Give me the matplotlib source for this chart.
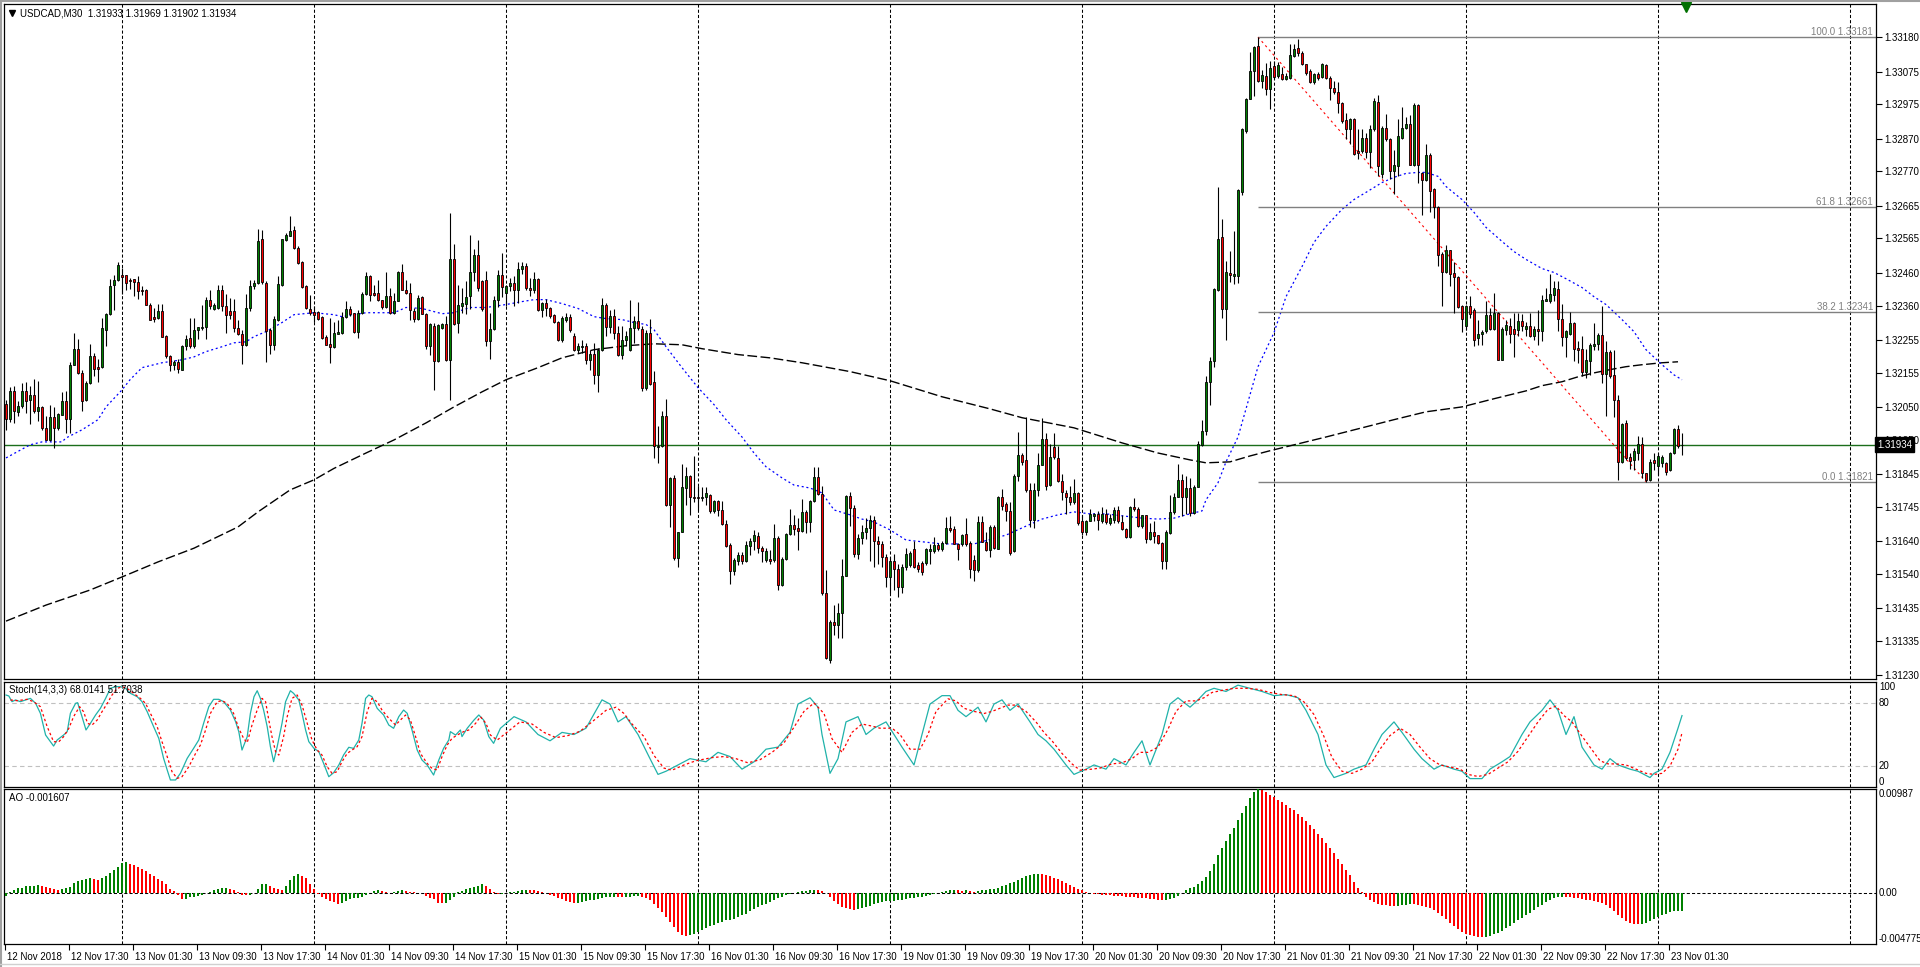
import matplotlib
matplotlib.use("Agg")
import matplotlib.pyplot as plt
import numpy as np
from matplotlib.transforms import ScaledTranslation
from matplotlib.lines import Line2D

plt.rcParams['font.family'] = ['Liberation Sans', 'DejaVu Sans']

# USDCAD M30 candles, prices stored as points above 1.30000 (1934 -> 1.31934)
bar_open = [
    2060, 2014, 2100, 2033, 2052, 2100, 2070, 2087, 2036, 2050,
    1985, 1948, 2019, 1984, 2026, 2068, 2013, 2178, 2227, 2153,
    2070, 2123, 2207, 2172, 2172, 2285, 2334, 2422, 2437, 2453,
    2453, 2439, 2441, 2433, 2409, 2409, 2362, 2326, 2323, 2343,
    2268, 2207, 2177, 2186, 2164, 2235, 2262, 2235, 2285, 2290,
    2293, 2376, 2350, 2352, 2409, 2360, 2344, 2343, 2291, 2274,
    2238, 2352, 2419, 2429, 2562, 2429, 2286, 2240, 2315, 2423,
    2560, 2574, 2591, 2535, 2494, 2420, 2349, 2340, 2339, 2325,
    2263, 2243, 2234, 2274, 2276, 2325, 2349, 2336, 2279, 2336,
    2395, 2450, 2397, 2397, 2378, 2356, 2388, 2337, 2375, 2462,
    2409, 2398, 2343, 2319, 2386, 2335, 2237, 2297, 2189, 2291,
    2302, 2193, 2501, 2307, 2360, 2366, 2388, 2463, 2513, 2436,
    2439, 2251, 2288, 2376, 2452, 2397, 2421, 2429, 2407, 2472,
    2480, 2414, 2409, 2441, 2346, 2368, 2353, 2332, 2310, 2254,
    2317, 2325, 2268, 2225, 2233, 2237, 2193, 2211, 2149, 2225,
    2363, 2295, 2329, 2276, 2210, 2256, 2225, 2291, 2312, 2288,
    2108, 2276, 2126, 1927, 1929, 2021, 1751, 1833, 1588, 1667,
    1802, 1840, 1776, 1776, 1770, 1776, 1781, 1731, 1761, 1734,
    1692, 1628, 1547, 1578, 1598, 1578, 1626, 1639, 1656, 1618,
    1581, 1585, 1581, 1649, 1506, 1585, 1662, 1690, 1680, 1672,
    1730, 1697, 1761, 1836, 1785, 1481, 1277, 1391, 1384, 1419,
    1534, 1777, 1741, 1600, 1650, 1668, 1680, 1705, 1640, 1630,
    1590, 1530, 1580, 1555, 1500, 1560, 1566, 1614, 1566, 1573,
    1573, 1609, 1609, 1628, 1614, 1633, 1681, 1676, 1630, 1630,
    1662, 1635, 1582, 1550, 1697, 1638, 1612, 1684, 1616, 1775,
    1754, 1732, 1608, 1840, 1902, 1888, 1797, 1705, 1797, 1872,
    1953, 1810, 1926, 1893, 1824, 1788, 1773, 1759, 1788, 1700,
    1668, 1700, 1716, 1722, 1702, 1724, 1695, 1705, 1735, 1697,
    1676, 1652, 1743, 1738, 1687, 1718, 1646, 1668, 1657, 1633,
    1580, 1665, 1730, 1775, 1827, 1775, 1802, 1727, 1805, 1935,
    1977, 2125, 2189, 2407, 2571, 2350, 2460, 2450, 2450, 2708,
    2893, 2992, 3078, 3153, 3046, 3063, 3023, 3093, 3062, 3067,
    3054, 3057, 3123, 3146, 3133, 3098, 3077, 3044, 3067, 3060,
    3095, 3057, 3026, 3013, 2978, 2927, 2899, 2929, 2832, 2832,
    2873, 2829, 2899, 2982, 2761, 2904, 2868, 2771, 2786, 2873,
    2904, 2914, 2791, 2972, 2764, 2744, 2819, 2715, 2662, 2519,
    2462, 2529, 2458, 2447, 2360, 2298, 2358, 2347, 2261, 2274,
    2281, 2332, 2288, 2337, 2194, 2286, 2298, 2288, 2286, 2312,
    2288, 2298, 2266, 2288, 2281, 2373, 2373, 2393, 2411, 2319,
    2264, 2274, 2307, 2230, 2227, 2158, 2189, 2235, 2243, 2271,
    2151, 2218, 2148, 2072, 1883, 2000, 1898, 1888, 1908, 1936,
    1847, 1827, 1888, 1868, 1878, 1880, 1857, 1908, 1982, 1933,
]
bar_high = [
    2072, 2110, 2113, 2067, 2123, 2125, 2113, 2136, 2128, 2052,
    2021, 2055, 2050, 2031, 2096, 2099, 2188, 2276, 2259, 2164,
    2128, 2242, 2215, 2196, 2321, 2337, 2441, 2452, 2493, 2475,
    2454, 2444, 2442, 2449, 2421, 2411, 2368, 2352, 2366, 2366,
    2271, 2210, 2194, 2196, 2240, 2271, 2322, 2322, 2294, 2363,
    2386, 2409, 2368, 2424, 2422, 2396, 2382, 2381, 2317, 2284,
    2395, 2439, 2437, 2594, 2592, 2434, 2291, 2329, 2449, 2564,
    2582, 2635, 2604, 2541, 2496, 2422, 2393, 2358, 2342, 2327,
    2271, 2322, 2309, 2317, 2339, 2373, 2360, 2337, 2347, 2401,
    2462, 2452, 2424, 2439, 2378, 2463, 2414, 2398, 2465, 2488,
    2439, 2429, 2352, 2393, 2388, 2337, 2307, 2307, 2305, 2308,
    2327, 2642, 2547, 2424, 2414, 2434, 2577, 2533, 2560, 2439,
    2465, 2337, 2388, 2468, 2521, 2424, 2444, 2450, 2492, 2492,
    2490, 2444, 2462, 2443, 2370, 2380, 2356, 2335, 2312, 2327,
    2337, 2335, 2276, 2245, 2256, 2245, 2225, 2245, 2230, 2384,
    2368, 2346, 2350, 2297, 2297, 2281, 2378, 2327, 2370, 2298,
    2286, 2319, 2159, 1991, 2036, 2074, 1836, 1843, 1669, 1876,
    1866, 1843, 1901, 1807, 1805, 1805, 1785, 1765, 1764, 1761,
    1705, 1634, 1588, 1605, 1605, 1639, 1649, 1674, 1669, 1625,
    1618, 1613, 1693, 1654, 1591, 1664, 1739, 1720, 1710, 1768,
    1736, 1766, 1866, 1866, 1807, 1552, 1399, 1445, 1450, 1585,
    1781, 1790, 1750, 1660, 1690, 1710, 1720, 1715, 1655, 1640,
    1600, 1590, 1600, 1570, 1570, 1620, 1608, 1641, 1575, 1580,
    1620, 1630, 1652, 1635, 1640, 1713, 1716, 1687, 1635, 1662,
    1711, 1641, 1598, 1716, 1716, 1668, 1689, 1689, 1777, 1799,
    1759, 1759, 1845, 1974, 1910, 2019, 1818, 1818, 1910, 2017,
    1969, 1937, 1969, 1931, 1845, 1797, 1807, 1829, 1791, 1721,
    1705, 1738, 1727, 1732, 1743, 1738, 1722, 1743, 1748, 1721,
    1681, 1748, 1772, 1743, 1721, 1721, 1695, 1700, 1659, 1638,
    1673, 1780, 1786, 1874, 1845, 1840, 1834, 1810, 1947, 2010,
    2146, 2203, 2415, 2721, 2625, 2496, 2528, 2587, 2716, 2904,
    2995, 3135, 3153, 3181, 3081, 3103, 3108, 3108, 3105, 3088,
    3070, 3159, 3159, 3174, 3138, 3100, 3082, 3072, 3075, 3103,
    3100, 3062, 3046, 3044, 2983, 2948, 2934, 2934, 2899, 2899,
    2888, 2911, 2996, 3003, 2909, 2945, 2873, 2837, 2931, 2968,
    2937, 2942, 2978, 2975, 2768, 2853, 2827, 2720, 2664, 2523,
    2546, 2531, 2492, 2449, 2363, 2363, 2388, 2351, 2315, 2286,
    2373, 2351, 2398, 2339, 2293, 2317, 2322, 2337, 2337, 2335,
    2309, 2337, 2296, 2347, 2393, 2414, 2455, 2434, 2434, 2366,
    2286, 2339, 2309, 2250, 2266, 2227, 2245, 2307, 2276, 2360,
    2250, 2223, 2223, 2087, 2002, 2010, 1908, 1924, 1961, 1959,
    1849, 1890, 1908, 1910, 1903, 1883, 1913, 1985, 1995, 1969,
]
bar_low = [
    1980, 2003, 2001, 2021, 2046, 2031, 1999, 2031, 2006, 1980,
    1948, 1945, 1924, 1980, 2024, 1970, 1970, 2177, 2151, 2039,
    2068, 2121, 2143, 2125, 2170, 2235, 2332, 2345, 2435, 2395,
    2407, 2411, 2388, 2380, 2393, 2361, 2315, 2310, 2319, 2263,
    2201, 2159, 2162, 2154, 2162, 2225, 2230, 2231, 2258, 2286,
    2258, 2350, 2345, 2349, 2344, 2276, 2320, 2278, 2271, 2180,
    2235, 2344, 2411, 2427, 2426, 2186, 2213, 2225, 2312, 2419,
    2557, 2572, 2533, 2488, 2414, 2349, 2332, 2309, 2315, 2258,
    2238, 2184, 2230, 2272, 2274, 2323, 2327, 2276, 2261, 2334,
    2391, 2374, 2388, 2375, 2350, 2352, 2335, 2335, 2373, 2407,
    2396, 2317, 2310, 2317, 2333, 2227, 2210, 2101, 2186, 2289,
    2190, 2072, 2299, 2276, 2337, 2335, 2348, 2434, 2404, 2343,
    2235, 2195, 2286, 2356, 2386, 2358, 2404, 2358, 2368, 2455,
    2409, 2390, 2397, 2343, 2324, 2327, 2322, 2307, 2250, 2248,
    2310, 2279, 2220, 2215, 2215, 2182, 2164, 2121, 2095, 2220,
    2266, 2276, 2258, 2205, 2195, 2237, 2220, 2244, 2286, 2098,
    2103, 2118, 1894, 1880, 1927, 1748, 1683, 1583, 1560, 1666,
    1751, 1720, 1758, 1734, 1761, 1751, 1725, 1725, 1715, 1690,
    1623, 1508, 1537, 1567, 1570, 1575, 1598, 1613, 1603, 1577,
    1576, 1570, 1575, 1491, 1501, 1583, 1659, 1659, 1613, 1666,
    1664, 1669, 1758, 1782, 1476, 1279, 1268, 1353, 1343, 1343,
    1532, 1687, 1590, 1585, 1630, 1645, 1580, 1560, 1570, 1560,
    1500, 1480, 1490, 1470, 1480, 1550, 1560, 1558, 1545, 1535,
    1568, 1571, 1603, 1608, 1608, 1630, 1668, 1630, 1582, 1625,
    1625, 1528, 1519, 1545, 1636, 1609, 1592, 1616, 1614, 1734,
    1702, 1598, 1605, 1824, 1873, 1791, 1684, 1681, 1777, 1872,
    1797, 1808, 1892, 1820, 1764, 1722, 1749, 1753, 1689, 1657,
    1657, 1700, 1700, 1673, 1694, 1692, 1689, 1695, 1695, 1673,
    1649, 1649, 1732, 1684, 1681, 1635, 1644, 1635, 1630, 1555,
    1555, 1662, 1722, 1775, 1716, 1722, 1716, 1724, 1805, 1931,
    1963, 2055, 2173, 2404, 2321, 2254, 2431, 2426, 2429, 2698,
    2888, 2990, 3001, 3044, 3024, 3003, 2962, 3052, 3055, 3050,
    3050, 3054, 3121, 3123, 3095, 3065, 3040, 3038, 3050, 3055,
    3052, 2989, 3008, 2950, 2918, 2868, 2853, 2819, 2807, 2825,
    2812, 2781, 2894, 2756, 2751, 2863, 2748, 2700, 2756, 2868,
    2899, 2791, 2786, 2735, 2638, 2740, 2645, 2628, 2480, 2360,
    2460, 2419, 2337, 2352, 2278, 2286, 2322, 2237, 2240, 2240,
    2276, 2286, 2286, 2192, 2192, 2271, 2245, 2204, 2266, 2281,
    2266, 2264, 2255, 2240, 2250, 2373, 2368, 2373, 2281, 2235,
    2204, 2271, 2189, 2184, 2143, 2138, 2148, 2225, 2225, 2123,
    2021, 2138, 2019, 1825, 1878, 1888, 1859, 1857, 1888, 1832,
    1821, 1822, 1857, 1842, 1867, 1842, 1855, 1906, 1924, 1902,
]
bar_close = [
    2013, 2100, 2036, 2054, 2100, 2067, 2087, 2036, 2050, 1984,
    1950, 2019, 1984, 2028, 2068, 2013, 2178, 2227, 2153, 2068,
    2124, 2207, 2166, 2166, 2291, 2334, 2420, 2438, 2484, 2447,
    2429, 2435, 2431, 2403, 2405, 2362, 2317, 2319, 2343, 2264,
    2205, 2177, 2186, 2167, 2237, 2258, 2235, 2285, 2293, 2295,
    2376, 2360, 2362, 2409, 2358, 2332, 2332, 2292, 2272, 2238,
    2352, 2421, 2430, 2558, 2431, 2281, 2240, 2320, 2426, 2562,
    2577, 2588, 2535, 2490, 2417, 2351, 2337, 2332, 2319, 2261,
    2240, 2234, 2276, 2280, 2325, 2349, 2335, 2279, 2336, 2395,
    2450, 2393, 2391, 2376, 2356, 2388, 2337, 2375, 2462, 2409,
    2398, 2345, 2319, 2382, 2335, 2235, 2302, 2189, 2299, 2302,
    2193, 2501, 2302, 2363, 2368, 2386, 2463, 2513, 2414, 2348,
    2251, 2289, 2378, 2452, 2417, 2419, 2429, 2407, 2472, 2480,
    2414, 2407, 2441, 2346, 2368, 2353, 2329, 2310, 2254, 2322,
    2325, 2286, 2225, 2237, 2237, 2193, 2211, 2147, 2225, 2363,
    2295, 2327, 2276, 2210, 2256, 2266, 2291, 2312, 2291, 2108,
    2276, 2121, 1929, 1929, 2021, 1751, 1833, 1588, 1667, 1805,
    1840, 1776, 1770, 1771, 1776, 1787, 1731, 1761, 1734, 1692,
    1626, 1547, 1581, 1598, 1578, 1629, 1641, 1659, 1618, 1608,
    1610, 1578, 1649, 1506, 1585, 1662, 1690, 1676, 1672, 1730,
    1697, 1761, 1836, 1785, 1481, 1282, 1391, 1384, 1419, 1534,
    1778, 1741, 1600, 1650, 1668, 1680, 1705, 1640, 1630, 1590,
    1530, 1580, 1555, 1500, 1560, 1600, 1603, 1560, 1555, 1544,
    1614, 1614, 1628, 1614, 1633, 1681, 1673, 1630, 1614, 1657,
    1630, 1555, 1550, 1697, 1638, 1612, 1684, 1619, 1775, 1748,
    1732, 1603, 1838, 1902, 1881, 1797, 1705, 1797, 1872, 1953,
    1808, 1896, 1896, 1824, 1791, 1773, 1759, 1788, 1695, 1668,
    1700, 1724, 1724, 1705, 1724, 1697, 1709, 1735, 1700, 1676,
    1652, 1745, 1738, 1687, 1718, 1646, 1668, 1655, 1633, 1580,
    1668, 1730, 1775, 1827, 1775, 1802, 1727, 1805, 1937, 1977,
    2125, 2189, 2410, 2562, 2350, 2463, 2452, 2455, 2714, 2899,
    2992, 3078, 3151, 3046, 3065, 3022, 3085, 3060, 3095, 3052,
    3062, 3125, 3144, 3131, 3098, 3072, 3044, 3067, 3057, 3098,
    3057, 3026, 3013, 2978, 2924, 2899, 2929, 2822, 2825, 2873,
    2829, 2899, 2985, 2786, 2904, 2868, 2771, 2791, 2878, 2904,
    2916, 2791, 2972, 2791, 2744, 2819, 2710, 2662, 2516, 2462,
    2529, 2455, 2447, 2356, 2319, 2358, 2335, 2255, 2274, 2278,
    2332, 2288, 2337, 2194, 2289, 2301, 2273, 2273, 2312, 2296,
    2298, 2266, 2288, 2281, 2378, 2380, 2396, 2414, 2319, 2264,
    2281, 2307, 2227, 2223, 2158, 2192, 2240, 2243, 2271, 2151,
    2218, 2143, 2070, 1883, 1998, 1893, 1886, 1916, 1937, 1847,
    1827, 1883, 1880, 1900, 1896, 1852, 1908, 1982, 1929, 1934,
]

# moving averages (bar index, points above 1.30000)
ma_fast_bar = [0, 6, 9, 14, 15, 19, 23, 25, 29, 31, 34, 39, 44, 47, 50, 54, 57, 60, 62, 65,
               69, 72, 77, 82, 84, 90, 97, 100, 104, 109, 112, 116, 120, 125, 129, 132, 135, 139,
               143, 147, 150, 154, 157, 160, 162, 165, 169, 173, 177, 180, 184, 187, 190, 194,
               197, 201, 204, 207, 211, 214, 217, 221, 225, 234, 242, 250, 254, 259, 263, 267,
               271, 275, 279, 284, 288, 292, 296, 299, 300, 303, 305, 308, 310, 313, 317, 320,
               324, 327, 330, 334, 337, 340, 344, 347, 350, 353, 355, 358, 360, 364, 367, 370,
               374, 377, 380, 384, 387, 390, 394, 397, 400, 404, 407, 410, 414, 417, 419]
ma_fast_val = [1894, 1934, 1943, 1943, 1955, 1980, 2011, 2050, 2102, 2133, 2170, 2185, 2194, 2203,
               2219, 2234, 2246, 2249, 2265, 2280, 2308, 2332, 2338, 2332, 2326, 2338, 2338, 2354,
               2351, 2335, 2338, 2354, 2354, 2363, 2372, 2378, 2378, 2366, 2351, 2326, 2320, 2317,
               2308, 2302, 2286, 2234, 2170, 2109, 2057, 2011, 1958, 1909, 1867, 1833, 1811, 1802,
               1787, 1735, 1720, 1707, 1698, 1674, 1643, 1631, 1631, 1658, 1680, 1707, 1720, 1729,
               1723, 1723, 1717, 1710, 1707, 1710, 1723, 1732, 1766, 1818, 1882, 1958, 2044, 2173,
               2277, 2387, 2479, 2553, 2602, 2654, 2684, 2706, 2736, 2752, 2764, 2767, 2767, 2755,
               2724, 2684, 2645, 2599, 2556, 2525, 2501, 2473, 2461, 2442, 2415, 2387, 2363, 2317,
               2280, 2225, 2179, 2148, 2133]
ma_slow_bar = [0, 10, 21, 29, 38, 47, 58, 63, 71, 77, 82, 90, 97, 105, 112, 119, 125, 133, 139,
               147, 155, 162, 169, 174, 183, 191, 199, 211, 221, 234, 246, 254, 267, 279, 288,
               296, 300, 306, 311, 316, 322, 330, 339, 347, 355, 364, 372, 380, 384, 389, 393,
               397, 401, 405, 409, 414, 418]
ma_slow_val = [1395, 1444, 1490, 1530, 1576, 1618, 1683, 1729, 1796, 1827, 1862, 1909, 1949, 2001,
               2050, 2096, 2133, 2170, 2200, 2225, 2237, 2243, 2240, 2228, 2210, 2200, 2185, 2158,
               2130, 2081, 2044, 2017, 1986, 1940, 1909, 1888, 1879, 1882, 1900, 1916, 1934, 1958,
               1986, 2011, 2035, 2050, 2075, 2099, 2115, 2127, 2142, 2154, 2164, 2173, 2179, 2185,
               2188]

# Stochastic (14,3,3): main line and signal line
stoch_k_bar = [0, 0.7, 1.5, 2.4, 3.6, 4.9, 6.1, 7.4, 8.6, 9.9, 11.1, 11.9, 12.8, 14.4, 15.3, 16.1,
               17.4, 17.9, 19.0, 20.0, 21.1, 22.4, 23.6, 24.9, 26.1, 27.4, 28.6, 29.9, 31.1, 32.8,
               34.0, 35.3, 36.9, 38.2, 39.4, 40.3, 41.1, 42.4, 43.6, 45.3, 46.9, 48.2, 49.4, 50.7,
               51.9, 53.2, 54.4, 56.1, 57.4, 58.2, 59.0, 60.3, 61.1, 62.0, 62.8, 63.6, 64.4, 65.3,
               66.1, 66.9, 67.8, 69.0, 69.9, 71.1, 71.9, 73.2, 74.0, 74.9, 75.7, 77.0, 78.2, 79.4,
               80.7, 81.9, 83.2, 84.4, 85.7, 86.9, 88.2, 89.0, 89.9, 90.7, 91.5, 92.8, 94.4, 95.7,
               96.9, 98.2, 99.4, 100.3, 101.5, 102.8, 104.0, 105.3, 106.9, 108.2, 109.4, 110.7,
               111.1, 112.4, 113.6, 114.0, 115.3, 117.0, 118.2, 119.4, 120.7, 121.9, 123.6,
               127, 130, 133, 136, 139, 142, 145, 149, 151, 153,
               155, 158, 161, 163, 165, 168, 171, 175, 178, 181,
               184, 187, 190, 193, 196, 198, 201, 203, 204, 206,
               208, 210, 213, 215, 217, 220, 222, 224, 227, 229,
               231, 234, 236, 238, 240, 243, 245, 247, 249, 251,
               253, 256, 258, 260, 262, 265, 267, 270, 272, 275,
               277, 280, 282, 284, 286, 289, 291, 293, 296, 298,
               300, 302, 305, 308, 311, 314, 317, 320, 323, 325,
               328, 330, 332, 335, 337, 340, 342, 344, 347, 349,
               352, 354, 357, 359, 362, 364, 366, 369, 371, 374,
               376, 379, 381, 384, 386, 388, 390, 392, 394, 397,
               399, 401, 403, 406, 408, 411, 412, 414, 416, 418, 419]
stoch_k_val = [87.6, 86.7, 81.3, 82.9, 81.3, 82.9, 84.4, 79.7, 70.2, 49.5, 43.2, 39.0, 44.8, 49.5,
               52.7, 70.2, 79.7, 80.3, 67.0, 54.3, 60.6, 68.6, 74.9, 84.4, 94.0, 95.6, 95.6, 94.0,
               89.2, 86.0, 81.3, 71.7, 57.5, 46.3, 27.3, 16.2, 6.7, 6.7, 13.0, 27.3, 36.8, 44.8,
               60.6, 76.5, 83.5, 83.5, 81.3, 73.3, 62.2, 52.7, 35.2, 47.9, 70.2, 86.0, 91.7, 84.4,
               73.3, 57.5, 38.4, 24.1, 38.4, 60.6, 81.3, 91.7, 89.2, 82.9, 70.2, 54.3, 43.2, 36.8,
               33.7, 22.5, 9.8, 13.6, 20.9, 30.5, 37.8, 36.8, 44.8, 60.6, 84.4, 87.6, 86.0, 74.9,
               68.6, 59.0, 55.9, 67.0, 73.3, 70.2, 54.3, 35.2, 25.7, 20.9, 11.4, 25.7, 36.8, 44.8,
               52.7, 49.5, 54.3, 48.0, 55.9, 63.8, 68.6, 63.8, 48.0, 41.6, 55.9,
               67, 62, 50, 44, 52, 50, 56, 83, 79, 62,
               67, 50, 27, 12, 15, 21, 27, 24, 33, 29,
               17, 24, 36, 38, 52, 79, 85, 76, 50, 13,
               27, 62, 67, 50, 56, 62, 50, 38, 21, 50,
               79, 87, 87, 73, 67, 76, 62, 79, 83, 73,
               79, 62, 50, 44, 36, 21, 12, 17, 21, 17,
               27, 21, 33, 44, 21, 50, 79, 85, 76, 83,
               91, 94, 91, 97, 94, 91, 87, 88, 85, 73,
               50, 21, 9, 13, 17, 21, 36, 50, 62, 52,
               36, 27, 17, 21, 17, 15, 8, 8, 17, 24,
               29, 50, 62, 73, 83, 73, 50, 67, 38, 21,
               17, 27, 21, 17, 15, 9, 13, 17, 33, 56, 68.0141]
stoch_d_bar = [1.1, 2.8, 5.3, 6.9, 8.6, 10.3, 11.9, 13.2, 14.4, 15.7, 16.9, 18.4, 19.4, 20.4, 21.5,
               22.8, 24.0, 25.3, 26.5, 27.8, 29.0, 30.3, 31.9, 33.6, 34.9, 36.1, 37.8, 39.0, 40.3,
               41.5, 42.8, 44.0, 45.7, 47.4, 48.6, 49.9, 51.1, 52.8, 54.0, 55.3, 56.9, 58.2, 59.4,
               60.3, 61.5, 62.8, 64.0, 64.9, 65.7, 66.5, 67.4, 68.2, 69.4, 70.3, 71.5, 72.8, 74.0,
               75.3, 76.5, 77.8, 79.0, 80.3, 81.5, 82.8, 84.0, 85.3, 86.5, 87.8, 89.0, 90.3, 91.5,
               92.8, 94.0, 95.7, 97.4, 98.6, 99.9, 101.1, 102.4, 103.6, 105.3, 106.5, 107.8, 109.0,
               110.3, 111.5, 112.8, 114.4, 115.7, 117.4, 118.6, 120.0, 121.1, 122.8,
               128.5, 131.5, 134.5, 137.5, 140.5, 143.5, 146.5, 150, 152.5, 154.5,
               156.5, 159.5, 162, 164.5, 166.5, 169.5, 172.5, 176.5, 179.5, 182.5,
               185.5, 188.5, 191.5, 194.5, 197, 199.5, 202, 204.5, 206.5, 209,
               211.5, 214, 216.5, 218.5, 221.5, 223.5, 226, 228.5, 230.5, 232.5,
               235.5, 237.5, 239.5, 242, 244.5, 246.5, 248.5, 250.5, 252.5, 255,
               257.5, 259.5, 261.5, 264, 266.5, 268.5, 271.5, 273.5, 276.5, 279,
               281.5, 283.5, 285.5, 288, 290.5, 292.5, 295, 297.5, 299.5, 301.5,
               304, 307, 310, 313, 316, 319, 322, 324.5, 327, 329.5,
               331.5, 334, 336.5, 339, 341.5, 343.5, 346, 348.5, 351, 353.5,
               356, 358.5, 361, 363.5, 365.5, 368, 370.5, 373, 375.5, 378,
               380.5, 383, 385.5, 387.5, 389.5, 391.5, 393.5, 396, 398.5, 400.5,
               402.5, 405, 407.5, 410, 412, 414, 416, 418, 419]
stoch_d_val = [82.9, 82.2, 83.5, 81.2, 76.5, 57.4, 43.1, 43.1, 47.9, 55.8, 67.0, 76.5, 71.7, 60.6,
               59.0, 63.8, 71.7, 79.6, 87.6, 93.9, 95.5, 93.9, 89.2, 84.4, 79.6, 70.1, 57.4, 43.1,
               28.9, 14.6, 8.2, 9.8, 19.3, 32.0, 40.0, 54.3, 70.1, 81.2, 82.2, 79.6, 70.1, 55.8,
               46.3, 42.2, 59.0, 73.3, 84.4, 81.2, 63.8, 47.9, 33.6, 30.4, 47.9, 67.0, 84.4, 87.6,
               78.1, 60.6, 44.7, 35.2, 30.4, 19.3, 13.0, 14.6, 24.1, 32.0, 35.2, 38.4, 47.9, 71.7,
               84.4, 81.2, 73.3, 65.4, 59.0, 63.8, 68.5, 63.8, 47.9, 32.0, 22.5, 17.7, 16.2, 28.9,
               40.0, 46.3, 49.5, 52.7, 54.3, 60.6, 67.0, 60.6, 49.5, 44.7,
               62, 60, 52, 47, 49, 53, 62, 73, 76, 70,
               60, 48, 30, 18, 16, 21, 25, 28, 29, 27,
               23, 26, 33, 42, 57, 72, 80, 70, 46, 33,
               52, 60, 58, 56, 56, 50, 36, 36, 50, 72,
               84, 82, 75, 72, 70, 72, 75, 78, 78, 72,
               62, 52, 44, 32, 22, 16, 17, 18, 22, 23,
               27, 33, 33, 38, 55, 72, 82, 82, 85, 90,
               92, 94, 94, 93, 90, 88, 87, 81, 69, 48,
               28, 15, 13, 17, 24, 36, 49, 56, 50, 38,
               27, 21, 19, 17, 12, 10, 12, 18, 24, 34,
               48, 62, 74, 77, 68, 62, 51, 38, 25, 22,
               22, 21, 17, 13, 12, 13, 20, 36, 51.7038]

# Awesome Oscillator, one value per bar (x 1e-5)
ao_val = [
    -25, 16, 31, 47, 56, 66, 72, 75, 81, 69,
    59, 53, 41, 34, 38, 47, 60, 100, 119, 131,
    141, 147, 138, 125, 147, 163, 194, 219, 250, 288,
    294, 282, 269, 250, 232, 210, 188, 163, 138, 116,
    85, 44, 22, -19, -50, -50, -38, -31, -25, -13,
    6, 16, 31, 44, 50, 56, 44, 31, 16, -16,
    -19, -16, 1, 38, 85, 94, 69, 53, 38, 31,
    69, 131, 169, 188, 169, 147, 85, 38, -9, -31,
    -56, -72, -81, -103, -88, -72, -50, -44, -41, -34,
    -19, 1, 22, 31, 22, 13, 6, 13, 19, 28,
    19, 16, 13, 6, 0, -25, -41, -56, -88, -94,
    -88, -66, -31, 13, 22, 38, 47, 63, 75, 85,
    69, 38, 13, -9, -5, 5, 12, 18, 25, 30,
    32, 30, 28, 22, 12, 2, -10, -25, -40, -55,
    -70, -85, -90, -88, -80, -70, -62, -58, -55, -45,
    -38, -35, -32, -35, -38, -36, -30, -25, -22, -30,
    -45, -60, -95, -140, -175, -225, -270, -320, -365, -395,
    -405, -395, -380, -362, -345, -328, -312, -296, -280, -266,
    -255, -250, -240, -225, -208, -190, -170, -150, -130, -112,
    -95, -80, -62, -45, -30, -15, -2, 8, 15, 22,
    25, 28, 32, 30, 22, 0, -35, -70, -100, -125,
    -140, -150, -155, -150, -140, -128, -115, -100, -88, -78,
    -72, -70, -68, -65, -60, -52, -45, -40, -35, -30,
    -25, -15, -5, 5, 15, 22, 28, 30, 28, 26,
    28, 22, 18, 22, 28, 32, 38, 45, 55, 68,
    82, 95, 112, 130, 148, 162, 172, 180, 185, 182,
    175, 165, 150, 135, 118, 100, 82, 62, 45, 28,
    15, 5, -3, -8, -12, -15, -18, -20, -22, -25,
    -30, -35, -38, -40, -42, -45, -50, -55, -58, -62,
    -60, -52, -40, -20, 5, 30, 50, 65, 90, 120,
    160, 210, 280, 360, 430, 500, 560, 620, 690, 760,
    830, 900, 955, 987, 975, 955, 935, 910, 885, 860,
    835, 810, 785, 755, 720, 685, 645, 605, 565, 520,
    475, 430, 380, 330, 280, 225, 170, 110, 55, 10,
    -30, -60, -80, -95, -105, -110, -115, -118, -115, -110,
    -105, -100, -102, -108, -115, -125, -140, -160, -185, -215,
    -245, -275, -305, -335, -360, -380, -395, -405, -412, -415,
    -410, -400, -385, -370, -350, -330, -305, -280, -255, -230,
    -205, -180, -155, -130, -105, -82, -62, -45, -35, -30,
    -32, -36, -40, -45, -52, -58, -65, -70, -78, -90,
    -110, -135, -165, -200, -235, -262, -280, -290, -292, -288,
    -275, -258, -240, -222, -205, -190, -178, -168, -162, -161,
]

time_labels = ['12 Nov 2018', '12 Nov 17:30', '13 Nov 01:30', '13 Nov 09:30', '13 Nov 17:30',
               '14 Nov 01:30', '14 Nov 09:30', '14 Nov 17:30', '15 Nov 01:30', '15 Nov 09:30',
               '15 Nov 17:30', '16 Nov 01:30', '16 Nov 09:30', '16 Nov 17:30', '19 Nov 01:30',
               '19 Nov 09:30', '19 Nov 17:30', '20 Nov 01:30', '20 Nov 09:30', '20 Nov 17:30',
               '21 Nov 01:30', '21 Nov 09:30', '21 Nov 17:30', '22 Nov 01:30', '22 Nov 09:30',
               '22 Nov 17:30', '23 Nov 01:30']
price_ticks = [1.33180, 1.33075, 1.32975, 1.32870, 1.32770, 1.32665, 1.32565, 1.32460, 1.32360,
               1.32255, 1.32155, 1.32050, 1.31950, 1.31845, 1.31745, 1.31640, 1.31540, 1.31435,
               1.31335, 1.31230]
fib_levels = ['100.0', '61.8', '38.2', '0.0']
fib_prices = [1.33181, 1.32661, 1.32341, 1.31821]
fib_from_bar, fib_to_bar = 313, 410
day_sep_bars = [29, 77, 125, 173, 221, 269, 317, 365, 413, 461]
last_price = 1.31934


def to_price(v):
    return 1.3 + np.asarray(v, dtype=float) / 1e5


W, H = 1920, 967
fig = plt.figure(figsize=(W / 100, H / 100), dpi=100)


def box(x0, y0, x1, y1):
    return [x0 / W, 1 - y1 / H, (x1 - x0) / W, (y1 - y0) / H]


ax = fig.add_axes(box(4, 4, 1876, 679))
ax_st = fig.add_axes(box(4, 682, 1876, 787))
ax_ao = fig.add_axes(box(4, 789, 1876, 944))

XMIN, XMAX = -0.5, 467.5
FS = 7
GREEN = '#008000'
RED = '#ff0000'

for a in (ax, ax_st, ax_ao):
    a.set_xlim(XMIN, XMAX)
    for s in a.spines.values():
        s.set_linewidth(0.9)
        s.set_color('black')
    a.tick_params(axis='x', bottom=False, labelbottom=False)
    for b in day_sep_bars:
        a.axvline(b, color='black', lw=0.75, ls=(0, (3, 2)), zorder=1)

# ---- main price panel ----
o = to_price(bar_open)
c = to_price(bar_close)
hi = np.maximum(to_price(bar_high), np.maximum(o, c))
lo = np.minimum(to_price(bar_low), np.minimum(o, c))
x = np.arange(len(c))
up = c >= o

ax.set_ylim(1.31218, 1.33282)
ax.axhline(last_price, color='#1b6e1b', lw=1.0, zorder=2)
ax.plot(ma_slow_bar, to_price(ma_slow_val), color='black', lw=1.0, ls=(0, (7, 2.5)), zorder=2)
ax.plot(ma_fast_bar, to_price(ma_fast_val), color='#0000ff', lw=0.9, ls=(0, (1.6, 2.2)), zorder=2)

ax.vlines(x, lo, hi, color='black', lw=0.8, zorder=3)
body_h = np.maximum(np.abs(c - o), 0.000012)
ax.bar(x, body_h, bottom=np.minimum(o, c), width=0.62,
       color=np.where(up, GREEN, RED), edgecolor='black', linewidth=0.6, zorder=4)

# fibonacci retracement
ax.plot([fib_from_bar, fib_to_bar], [fib_prices[0], fib_prices[-1]],
        color='red', lw=0.8, ls=(0, (2, 3)), zorder=2)
for lev, p in zip(fib_levels, fib_prices):
    ax.hlines(p, fib_from_bar, XMAX, color='#808080', lw=1.0, zorder=2)
    ax.text(1 - 3 / 1872, p, f'{lev} {p:.5f}', transform=ax.get_yaxis_transform(),
            ha='right', va='bottom', fontsize=FS, color='#808080')

ax.yaxis.tick_right()
ax.set_yticks(price_ticks)
ax.set_yticklabels([f'{t:.5f}' for t in price_ticks])
ax.tick_params(axis='y', direction='out', length=4, width=0.8, pad=2, labelsize=FS)

ax.text(1 + 1 / 1872, last_price, f'{last_price:.5f}', transform=ax.get_yaxis_transform(),
        ha='left', va='center', fontsize=FS, color='white', zorder=10, clip_on=False,
        bbox=dict(boxstyle='square,pad=0.25', fc='black', ec='black'))

ax.text(16 / 1872, 1 - 9 / 675, 'USDCAD,M30  1.31933 1.31969 1.31902 1.31934',
        transform=ax.transAxes, ha='left', va='center', fontsize=FS)
ax.plot([8 / 1872], [1 - 9 / 675], marker='v', ms=4.5, color='black',
        transform=ax.transAxes, clip_on=False)
ax.plot([420], [1 - 3 / 675], marker='v', ms=7, color='#007000', mec='#007000',
        transform=ax.get_xaxis_transform(), clip_on=False, zorder=6)

# ---- stochastic panel ----
ax_st.set_ylim(0, 100)
for lvl in (80, 20):
    ax_st.axhline(lvl, color='#c0c0c0', lw=0.8, ls=(0, (4, 3)), zorder=1)
ax_st.plot(stoch_k_bar, stoch_k_val, color='#20b2aa', lw=0.9, zorder=3)
ax_st.plot(stoch_d_bar, stoch_d_val, color='red', lw=0.9, ls=(0, (2, 2)), zorder=3)
ax_st.set_yticks([])
for val, va in ((100, 'top'), (80, 'center'), (20, 'center'), (0, 'bottom')):
    ax_st.text(1 + 3 / 1872, val, str(val), transform=ax_st.get_yaxis_transform(),
               ha='left', va=va, fontsize=FS)
ax_st.text(5 / 1872, 1 - 8 / 105, 'Stoch(14,3,3) 68.0141 51.7038', transform=ax_st.transAxes,
           ha='left', va='center', fontsize=FS)

# ---- awesome oscillator panel ----
ao = np.asarray(ao_val, dtype=float) / 1e5
ao_prev = np.concatenate([[ao[0] - 1e-6], ao[:-1]])
ax_ao.set_ylim(-0.004775, 0.00987)
ax_ao.bar(np.arange(len(ao)), ao, width=0.65,
          color=np.where(ao >= ao_prev, GREEN, RED), linewidth=0, zorder=3)
ax_ao.axhline(0, color='black', lw=0.75, ls=(0, (3, 2)), zorder=2)
ax_ao.set_yticks([])
for val, txt, va in ((0.00987, '0.00987', 'top'), (0.0, '0.00', 'center'),
                     (-0.004775, '-0.004775', 'bottom')):
    ax_ao.text(1 + 3 / 1872, val, txt, transform=ax_ao.get_yaxis_transform(),
               ha='left', va=va, fontsize=FS)
ax_ao.text(5 / 1872, 1 - 9 / 155, 'AO -0.001607', transform=ax_ao.transAxes,
           ha='left', va='center', fontsize=FS)

tick_bars = [16 * k - 0.25 for k in range(len(time_labels))]
ax_ao.set_xticks(tick_bars)
ax_ao.set_xticklabels(time_labels)
ax_ao.tick_params(axis='x', bottom=True, labelbottom=True, direction='out',
                  length=4, width=0.8, pad=1.5, labelsize=FS)
shift = ScaledTranslation(2 / 100, 0, fig.dpi_scale_trans)
for lab in ax_ao.get_xticklabels():
    lab.set_horizontalalignment('left')
    lab.set_transform(lab.get_transform() + shift)

# outer window frame
fig.add_artist(Line2D([1 / W, 1 / W], [0, 1], color='#a0a0a0', lw=1.5))
fig.add_artist(Line2D([0, 1], [1 - 1 / H, 1 - 1 / H], color='#a0a0a0', lw=1.5))
fig.add_artist(Line2D([0, 1], [1 - 964 / H, 1 - 964 / H], color='#d0d0d0', lw=1.0))

fig.savefig('out.png', dpi=100)
